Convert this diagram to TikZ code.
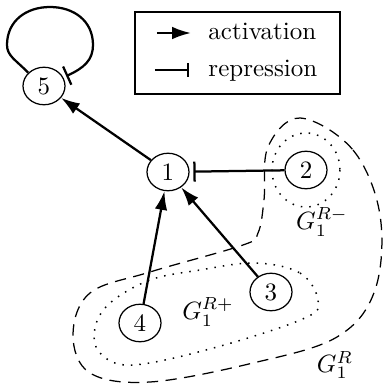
\documentclass[tikz,border=0pt]{standalone}
\usetikzlibrary{arrows.meta,shapes.geometric}
\begin{document}
\begin{tikzpicture}[x=0.4pt,y=-0.4pt,
  gnode/.style={ellipse,draw,line width=0.5pt,minimum width=16.8pt,minimum height=15pt,inner sep=0pt},
  act/.style={line width=0.9pt,-{Latex[length=7.5pt,width=5pt]}},
  rep/.style={line width=0.9pt,-{Bar[width=8pt,line width=0.9pt]}},
  legrep/.style={line width=0.9pt,-{Bar[width=5.6pt,line width=0.9pt]}},
  outerreg/.style={line width=0.5pt,dash pattern=on 4.5pt off 3pt},
  innerreg/.style={line width=0.6pt,dash pattern=on 0.6pt off 2.8pt},
  lbl/.style={inner sep=0pt}]
\useasboundingbox (0,0) rectangle (385,388);
% regions
\draw[outerreg] plot[smooth cycle,tension=0.6] coordinates {(300,118) (353,150) (380,215) (375,290) (337,337) (253,363) (150,382) (90,373) (73,335) (90,293) (150,272) (243,245) (258,233) (264,200) (268,147)};
\draw[innerreg] plot[smooth cycle,tension=0.6] coordinates {(255,263) (300,273) (318,300) (305,318) (217,347) (133,365) (100,353) (95,328) (110,303) (150,280) (200,270)};
% nodes
\node[gnode] (n1) at (168,172) {1};
\node[gnode] (n2) at (306,170) {2};
\node[gnode] (n3) at (271,292) {3};
\node[gnode] (n4) at (140,323) {4};
\node[gnode] (n5) at (44,86) {5};
\draw[innerreg] (n2.center) ellipse [x radius=34, y radius=37];
% labels
\node[lbl] (lm) at (322,222) {$G_1^{R-}$};
\node[lbl] (lp) at (208,312) {$G_1^{R+}$};
\node[lbl] (lr) at (335,365) {$G_1^{R}$};
% edges
\draw[act] (n1) -- (n5);
\draw[act] (n4) -- (n1);
\draw[act] (n3) -- (n1);
\draw[rep,shorten >=1.5pt] (n2) -- (n1);
\coordinate (loopl) at (7,45);
\coordinate (loopt) at (50,7);
\coordinate (loopr) at (93,45);
\coordinate (loope) at ([shift={(3,-1)}]n5.25);
\draw[rep] (n5.140) .. controls (16,60) and (7,56) .. (loopl)
  .. controls (7,21) and (26,7) .. (loopt)
  .. controls (74,7) and (93,21) .. (loopr)
  .. controls (93,60) and (84,68) .. (loope);
% legend
\node[draw,line width=0.5pt,minimum width=82pt,minimum height=32.8pt,inner sep=0pt] (legend) at (237.5,53) {};
\coordinate (a1) at (157,33);
\coordinate (a2) at (191,33);
\coordinate (r1) at (155,70);
\coordinate (r2) at (189,70);
\draw[act] (a1) -- (a2);
\draw[legrep] (r1) -- (r2);
\node[lbl,anchor=base west] (tact) at (208,39) {activation};
\node[lbl,anchor=base west] (trep) at (208,76) {repression};
\end{tikzpicture}
\end{document}
